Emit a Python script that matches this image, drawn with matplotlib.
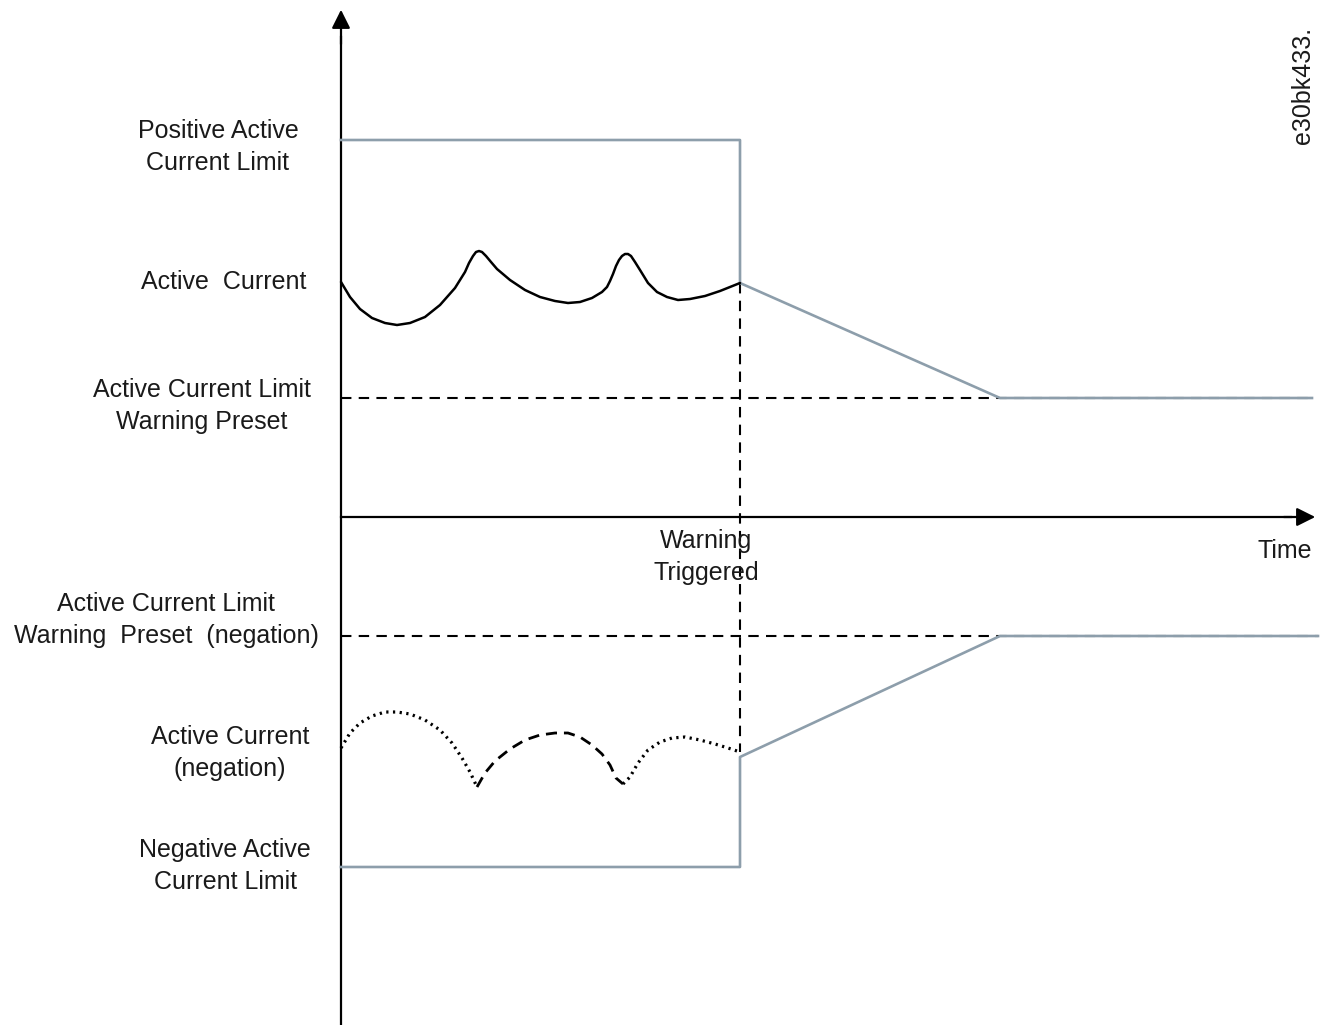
import matplotlib.pyplot as plt

plt.rcParams['font.family'] = ['Liberation Sans', 'DejaVu Sans']

# Time runs from the vertical axis, current from the horizontal axis (picture units)
t_warn = 399
t_ramp_end = 659
t_end = 971
t_end_neg = 977

pos_limit = 377
neg_limit = -350
warn_preset = 119
warn_preset_neg = -119
neg_jump = -240

# Active current trace (upper)
cur_t = [0, 9, 19, 31, 44, 56, 69, 84, 99, 114, 124, 128, 132, 135, 138, 141, 145, 150, 156, 169,
         184, 199, 214, 227, 239, 251, 261, 266, 269, 272, 275, 278, 281, 284, 287, 290, 294, 299,
         307, 316, 326, 337, 349, 364, 379, 399]
cur_i = [235, 220, 208, 199, 194, 192, 194, 200, 212, 229, 245, 254, 261, 265, 266, 265, 261, 255, 248, 237,
         227, 220, 216, 214, 215, 219, 225, 230, 236, 243, 251, 257, 261, 263, 263, 261, 255, 247,
         234, 225, 220, 217, 218, 221, 226, 234]

# Active current (negation), three pieces: dotted, dashed, dotted
neg1_t = [0, 9, 19, 31, 44, 56, 69, 84, 99, 111, 121, 129, 136]
neg1_i = [-231, -216, -206, -199, -195, -195, -197, -203, -213, -226, -241, -255, -270]
neg2_t = [136, 144, 154, 169, 184, 199, 214, 227, 239, 251, 261, 269, 275, 282]
neg2_i = [-270, -256, -244, -232, -223, -218, -216, -216, -220, -228, -237, -248, -261, -267]
neg3_t = [282, 289, 297, 307, 319, 331, 344, 359, 374, 387, 399]
neg3_i = [-267, -260, -246, -233, -225, -221, -220, -223, -227, -231, -235]

gray = '#8d9eab'

fig = plt.figure(figsize=(13.29, 10.25), dpi=100)
ax = fig.add_axes([0, 0, 1, 1])
ax.set_xlim(-341, 988)
ax.set_ylim(-508, 517)
ax.axis('off')

# axes arrows
ax.plot([0, 0], [-508, 480], color='black', lw=1.6)
ax.annotate('', xy=(0, 510), xytext=(0, 470),
            arrowprops=dict(arrowstyle='-|>', mutation_scale=28, lw=1.6, color='black'))
ax.plot([0, 950], [0, 0], color='black', lw=1.6)
ax.annotate('', xy=(t_end_neg, 0), xytext=(940, 0),
            arrowprops=dict(arrowstyle='-|>', mutation_scale=28, lw=1.6, color='black'))

# dashed reference lines
ax.plot([0, t_end], [warn_preset, warn_preset], color='black', lw=1.5, ls=(0, (5, 3.5)))
ax.plot([0, t_end_neg], [warn_preset_neg, warn_preset_neg], color='black', lw=1.5, ls=(0, (5, 3.5)))
ax.plot([t_warn, t_warn], [cur_i[-1], neg3_i[-1]], color='black', lw=1.5, ls=(0, (5, 3.5)))

# upper limit (gray)
ax.plot([0, t_warn, t_warn, t_ramp_end, t_end],
        [pos_limit, pos_limit, cur_i[-1], warn_preset, warn_preset], color=gray, lw=1.9)
# lower limit (gray)
ax.plot([0, t_warn, t_warn, t_ramp_end, t_end_neg],
        [neg_limit, neg_limit, neg_jump, warn_preset_neg, warn_preset_neg], color=gray, lw=1.9)

# active current
ax.plot(cur_t, cur_i, color='black', lw=1.8, solid_capstyle='round', solid_joinstyle='round')
ax.plot(neg1_t, neg1_i, color='black', lw=2.3, ls=(0, (0.7, 1.4)))
ax.plot(neg2_t, neg2_i, color='black', lw=2.0, ls=(0, (4, 2.5)))
ax.plot(neg3_t, neg3_i, color='black', lw=2.3, ls=(0, (0.7, 1.4)))

# labels
fs = 18
kw = dict(fontsize=fs, ha='center', va='center', linespacing=1.4, color='#1a1a1a')
ax.text(-123, 370, 'Positive Active\nCurrent Limit', **kw)
ax.text(-117, 235, 'Active  Current', **kw)
ax.text(-139, 111, 'Active Current Limit\nWarning Preset', **kw)
ax.text(365, -40, 'Warning\nTriggered', **kw)
ax.text(944, -34, 'Time', **kw)
ax.text(-175, -103, 'Active Current Limit\nWarning  Preset  (negation)', **kw)
ax.text(-111, -236, 'Active Current\n(negation)', **kw)
ax.text(-116, -349, 'Negative Active\nCurrent Limit', **kw)
ax.text(962, 432, 'e30bk433.', fontsize=fs, rotation=90, ha='center', va='center', color='#1a1a1a')

fig.savefig('out.png', dpi=100)
